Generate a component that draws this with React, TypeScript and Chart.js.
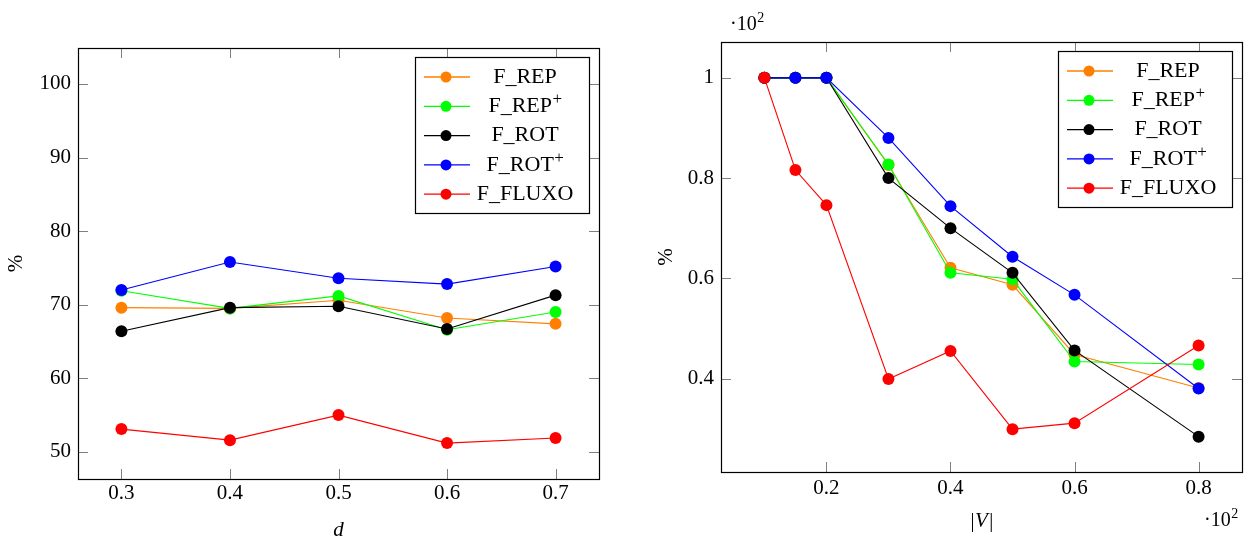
import { useEffect, useRef } from "react";
import { Chart, registerables } from "chart.js";

Chart.register(...registerables);

const FONT = "'Liberation Serif', 'Times New Roman', serif";

// ---- shared series info ----
const seriesNames = ["F_REP", "F_REP+", "F_ROT", "F_ROT+", "F_FLUXO"];
const seriesColors = ["#ff8000", "#00ff00", "#000000", "#0000ff", "#ff0000"];

// ---- left chart: % vs d ----
const dValues = [0.3, 0.4, 0.5, 0.6, 0.7];
const dRep = [69.6, 69.5, 70.6, 68.2, 67.4];
const dRepPlus = [71.9, 69.5, 71.2, 66.6, 69.0];
const dRot = [66.4, 69.6, 69.8, 66.7, 71.3];
const dRotPlus = [72.0, 75.8, 73.6, 72.8, 75.2];
const dFluxo = [53.1, 51.6, 55.0, 51.2, 51.9];
const dXTicks = [0.3, 0.4, 0.5, 0.6, 0.7];
const dYTicks = [50, 60, 70, 80, 90, 100];

// ---- right chart: % vs |V| (both scaled by 10^2) ----
const vValues = [0.1, 0.15, 0.2, 0.3, 0.4, 0.5, 0.6, 0.8];
const vRep = [1, 1, 1, 0.826, 0.621, 0.587, 0.448, 0.381];
const vRepPlus = [1, 1, 1, 0.827, 0.611, 0.598, 0.434, 0.428];
const vRot = [1, 1, 1, 0.8, 0.7, 0.611, 0.456, 0.284];
const vRotPlus = [1, 1, 1, 0.88, 0.744, 0.643, 0.567, 0.38];
const vFluxo = [1, 0.816, 0.746, 0.399, 0.455, 0.299, 0.311, 0.466];
const vXTicks = [0.2, 0.4, 0.6, 0.8];
const vYTicks = [0.4, 0.6, 0.8, 1];

function fmt(v: number) {
  return String(Number(v.toFixed(3)));
}

const framePlugin = {
  id: "frame",
  beforeDatasetsDraw(chart: any) {
    const { ctx, chartArea: ca, scales } = chart;
    const len = 10;
    ctx.save();
    ctx.strokeStyle = "#808080";
    ctx.lineWidth = 1;
    ctx.beginPath();
    for (const t of scales.x.ticks) {
      const x = Math.round(scales.x.getPixelForValue(t.value)) + 0.5;
      ctx.moveTo(x, ca.bottom);
      ctx.lineTo(x, ca.bottom - len);
      ctx.moveTo(x, ca.top);
      ctx.lineTo(x, ca.top + len);
    }
    for (const t of scales.y.ticks) {
      const y = Math.round(scales.y.getPixelForValue(t.value)) + 0.5;
      ctx.moveTo(ca.left, y);
      ctx.lineTo(ca.left + len, y);
      ctx.moveTo(ca.right, y);
      ctx.lineTo(ca.right - len, y);
    }
    ctx.stroke();
    ctx.strokeStyle = "#000";
    ctx.lineWidth = 1.2;
    ctx.strokeRect(
      Math.round(ca.left) + 0.5,
      Math.round(ca.top) + 0.5,
      Math.round(ca.right - ca.left),
      Math.round(ca.bottom - ca.top)
    );
    ctx.restore();
  },
};

const legendBoxPlugin = {
  id: "legendBox",
  afterDraw(chart: any) {
    const { ctx, chartArea: ca } = chart;
    const w = 174;
    const h = 156;
    const bx = Math.round(ca.right - 0.02 * (ca.right - ca.left) - w);
    const by = Math.round(ca.top + 0.02 * (ca.bottom - ca.top));
    ctx.save();
    ctx.fillStyle = "#fff";
    ctx.fillRect(bx, by, w, h);
    ctx.strokeStyle = "#000";
    ctx.lineWidth = 1.2;
    ctx.strokeRect(bx + 0.5, by + 0.5, w, h);
    chart.data.datasets.forEach((ds: any, i: number) => {
      const cy = by + 20 + i * 29.3;
      ctx.strokeStyle = ds.borderColor;
      ctx.lineWidth = 1.3;
      ctx.beginPath();
      ctx.moveTo(bx + 9, cy);
      ctx.lineTo(bx + 55, cy);
      ctx.stroke();
      ctx.fillStyle = ds.pointBackgroundColor;
      ctx.beginPath();
      ctx.arc(bx + 31, cy, 5.5, 0, Math.PI * 2);
      ctx.fill();
      const label: string = ds.label;
      const hasSup = label.endsWith("+");
      const base = hasSup ? label.slice(0, -1) : label;
      ctx.fillStyle = "#000";
      ctx.font = `22px ${FONT}`;
      const bw = ctx.measureText(base).width;
      ctx.font = `17px ${FONT}`;
      const sw = hasSup ? ctx.measureText("+").width : 0;
      const sx = bx + 110 - (bw + sw) / 2;
      ctx.font = `22px ${FONT}`;
      ctx.textBaseline = "middle";
      ctx.textAlign = "left";
      ctx.fillText(base, sx, cy);
      if (hasSup) {
        ctx.font = `17px ${FONT}`;
        ctx.textBaseline = "alphabetic";
        ctx.fillText("+", sx + bw + 0.5, cy - 2);
      }
    });
    ctx.restore();
  },
};

const scaleNotePlugin = {
  id: "scaleNote",
  afterDraw(chart: any, _args: any, opts: any) {
    if (!opts || !opts.notes) return;
    const { ctx } = chart;
    ctx.save();
    ctx.fillStyle = "#000";
    ctx.textAlign = "left";
    ctx.textBaseline = "alphabetic";
    for (const n of opts.notes) {
      ctx.font = `20px ${FONT}`;
      const dotW = ctx.measureText("·").width;
      ctx.fillText("·", n.x, n.y);
      const tenW = ctx.measureText("10").width;
      ctx.fillText("10", n.x + dotW, n.y);
      ctx.font = `14px ${FONT}`;
      ctx.fillText(n.exp, n.x + dotW + tenW + 0.5, n.y - 8);
    }
    ctx.restore();
  },
};

function buildDatasets(xs: number[], series: number[][]) {
  return series.map((ys, i) => ({
    label: seriesNames[i],
    data: xs.map((x, j) => ({ x, y: ys[j] })),
    borderColor: seriesColors[i],
    backgroundColor: seriesColors[i],
    pointBackgroundColor: seriesColors[i],
    pointBorderWidth: 0,
    pointRadius: 6,
    borderWidth: 1.1,
    tension: 0,
    order: series.length - 1 - i,
  }));
}

type Cfg = {
  xs: number[];
  series: number[][];
  xMin: number;
  xMax: number;
  yMin: number;
  yMax: number;
  xTicks: number[];
  yTicks: number[];
  xTitle: string;
  xTitleItalic: boolean;
  padding: { left: number; right: number; top: number; bottom: number };
  yWidth: number;
  xHeight: number;
  xTickPad: number;
  yTickPad: number;
  xTitlePad: number;
  yTitlePad: number;
  notes?: { x: number; y: number; exp: string }[];
};

function makeChart(canvas: HTMLCanvasElement, c: Cfg) {
  return new Chart(canvas, {
    type: "line",
    data: { datasets: buildDatasets(c.xs, c.series) as any },
    plugins: [framePlugin, legendBoxPlugin, scaleNotePlugin],
    options: {
      responsive: false,
      animation: false,
      events: [],
      layout: { padding: c.padding },
      plugins: {
        legend: { display: false },
        tooltip: { enabled: false },
        scaleNote: { notes: c.notes || [] },
      } as any,
      scales: {
        x: {
          type: "linear",
          min: c.xMin,
          max: c.xMax,
          afterBuildTicks: (s: any) => {
            s.ticks = c.xTicks.map((v) => ({ value: v }));
          },
          afterFit: (s: any) => {
            s.height = c.xHeight;
          },
          grid: { display: false, drawTicks: false },
          border: { display: false },
          ticks: {
            color: "#000",
            padding: c.xTickPad,
            maxRotation: 0,
            autoSkip: false,
            font: { family: FONT, size: 21 },
            callback: (v: any) => fmt(Number(v)),
          },
          title: {
            display: true,
            text: c.xTitle,
            color: "#000",
            padding: { top: 0, bottom: c.xTitlePad },
            font: { family: FONT, size: 21, style: c.xTitleItalic ? "italic" : "normal" },
          },
        },
        y: {
          type: "linear",
          min: c.yMin,
          max: c.yMax,
          afterBuildTicks: (s: any) => {
            s.ticks = c.yTicks.map((v) => ({ value: v }));
          },
          afterFit: (s: any) => {
            s.width = c.yWidth;
          },
          grid: { display: false, drawTicks: false },
          border: { display: false },
          ticks: {
            color: "#000",
            padding: c.yTickPad,
            autoSkip: false,
            font: { family: FONT, size: 21 },
            callback: (v: any) => fmt(Number(v)),
          },
          title: {
            display: true,
            text: "%",
            color: "#000",
            padding: { top: c.yTitlePad, bottom: 0 },
            font: { family: FONT, size: 21 },
          },
        },
      },
    } as any,
  });
}

export default function App() {
  const leftRef = useRef<HTMLCanvasElement>(null);
  const rightRef = useRef<HTMLCanvasElement>(null);

  useEffect(() => {
    Chart.defaults.color = "#000";
    Chart.defaults.font.family = FONT;
    const left = makeChart(leftRef.current!, {
      xs: dValues,
      series: [dRep, dRepPlus, dRot, dRotPlus, dFluxo],
      xMin: 0.26,
      xMax: 0.74,
      yMin: 46.32,
      yMax: 104.88,
      xTicks: dXTicks,
      yTicks: dYTicks,
      xTitle: "d",
      xTitleItalic: true,
      padding: { left: 0, right: 21, top: 48, bottom: 0 },
      yWidth: 78,
      xHeight: 64,
      xTickPad: 2,
      yTickPad: 7,
      xTitlePad: 0,
      yTitlePad: 4,
    });
    const right = makeChart(rightRef.current!, {
      xs: vValues,
      series: [vRep, vRepPlus, vRot, vRotPlus, vFluxo],
      xMin: 0.03,
      xMax: 0.87,
      yMin: 0.2135,
      yMax: 1.0715,
      xTicks: vXTicks,
      yTicks: vYTicks,
      xTitle: "|V|",
      xTitleItalic: true,
      padding: { left: 0, right: 11, top: 42, bottom: 0 },
      yWidth: 101,
      xHeight: 71,
      xTickPad: 4,
      yTickPad: 7,
      xTitlePad: 9,
      yTitlePad: 34,
      notes: [
        { x: 110, y: 30, exp: "2" },
        { x: 584, y: 526, exp: "2" },
      ],
    });
    return () => {
      left.destroy();
      right.destroy();
    };
  }, []);

  return (
    <div style={{ position: "relative", width: 1253, height: 543 }}>
      <canvas
        ref={leftRef}
        width={620}
        height={543}
        style={{ position: "fixed", left: 0, top: 0, width: 620, height: 543 }}
      />
      <canvas
        ref={rightRef}
        width={633}
        height={543}
        style={{ position: "fixed", left: 620, top: 0, width: 633, height: 543 }}
      />
    </div>
  );
}
